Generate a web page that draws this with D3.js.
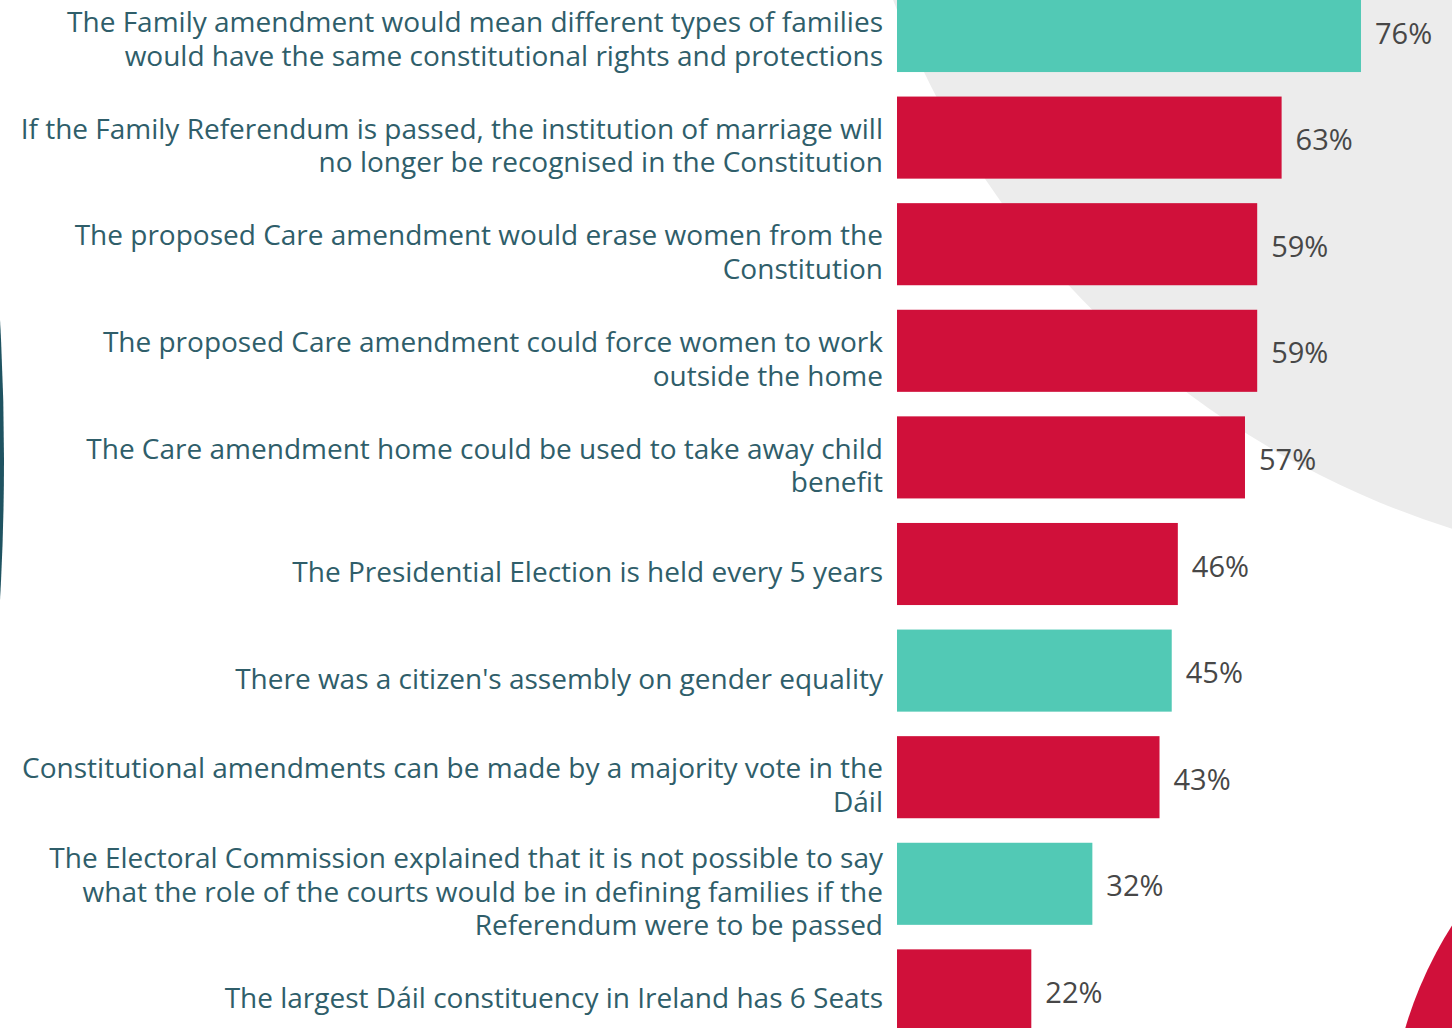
<!DOCTYPE html>
<html>
<head>
<meta charset="utf-8">
<script src="https://cdn.jsdelivr.net/npm/d3@7"></script>
<style>
  html, body { margin: 0; padding: 0; background: #ffffff; overflow: hidden; }
  svg { display: block; }
</style>
</head>
<body>
<svg id="chart" width="1452" height="1028"></svg>
<script>
// ---- data ----
const categories = [
  ["The Family amendment would mean different types of families", "would have the same constitutional rights and protections"],
  ["If the Family Referendum is passed, the institution of marriage will", "no longer be recognised in the Constitution"],
  ["The proposed Care amendment would erase women from the", "Constitution"],
  ["The proposed Care amendment could force women to work", "outside the home"],
  ["The Care amendment home could be used to take away child", "benefit"],
  ["The Presidential Election is held every 5 years"],
  ["There was a citizen's assembly on gender equality"],
  ["Constitutional amendments can be made by a majority vote in the", "Dáil"],
  ["The Electoral Commission explained that it is not possible to say", "what the role of the courts would be in defining families if the", "Referendum were to be passed"],
  ["The largest Dáil constituency in Ireland has 6 Seats"]
];
const values = [76, 63, 59, 59, 57, 46, 45, 43, 32, 22];
const isTrue = [true, false, false, false, false, false, true, false, true, false];
const valueLabels = ["76%", "63%", "59%", "59%", "57%", "46%", "45%", "43%", "32%", "22%"];

// ---- style ----
const TEAL = "#52c9b5", RED = "#d0103a", GREY = "#ececec", DARK = "#1f5361";
const LABEL_COLOR = "#2f5e6a", VALUE_COLOR = "#474747";
const FONT = "'Open Sans', 'Noto Sans', sans-serif";

const svg = d3.select("#chart");

// ---- decorative background shapes ----
svg.append("circle").attr("cx", 1715).attr("cy", -309).attr("r", 878).attr("fill", GREY);
svg.append("circle").attr("cx", -2448).attr("cy", 460).attr("r", 2452).attr("fill", DARK);
svg.append("circle").attr("cx", 1789).attr("cy", 1141).attr("r", 400).attr("fill", RED);

// ---- scales ----
const idx = d3.range(categories.length);
const y = d3.scaleBand()
  .domain(idx)
  .range([-22.3, 1043.7])
  .paddingInner(0.23)
  .paddingOuter(0.115);
const x = d3.scaleLinear().domain([0, 100]).range([897, 897 + 610.5]);

// ---- bars ----
svg.append("g").selectAll("rect")
  .data(idx)
  .join("rect")
  .attr("x", x(0))
  .attr("y", i => y(i))
  .attr("width", i => x(values[i]) - x(0))
  .attr("height", y.bandwidth())
  .attr("fill", i => isTrue[i] ? TEAL : RED);

// ---- value labels ----
svg.append("g").selectAll("text")
  .data(idx)
  .join("text")
  .attr("x", i => x(values[i]) + 14)
  .attr("y", i => y(i) + y.bandwidth() / 2 + 1)
  .attr("dominant-baseline", "central")
  .attr("font-family", FONT)
  .attr("font-size", 29)
  .attr("fill", VALUE_COLOR)
  .text(i => valueLabels[i]);

// ---- category labels ----
const lineH = 33.5;
const labelG = svg.append("g");
idx.forEach(i => {
  const lines = categories[i];
  const cy = y(i) + y.bandwidth() / 2 + 7;
  const t = labelG.append("text")
    .attr("text-anchor", "end")
    .attr("font-family", FONT)
    .attr("font-size", 28)
    .attr("fill", LABEL_COLOR);
  lines.forEach((ln, k) => {
    t.append("tspan")
      .attr("x", 883)
      .attr("y", cy + (k - (lines.length - 1) / 2) * lineH)
      .attr("dominant-baseline", "central")
      .text(ln);
  });
});
</script>
</body>
</html>
